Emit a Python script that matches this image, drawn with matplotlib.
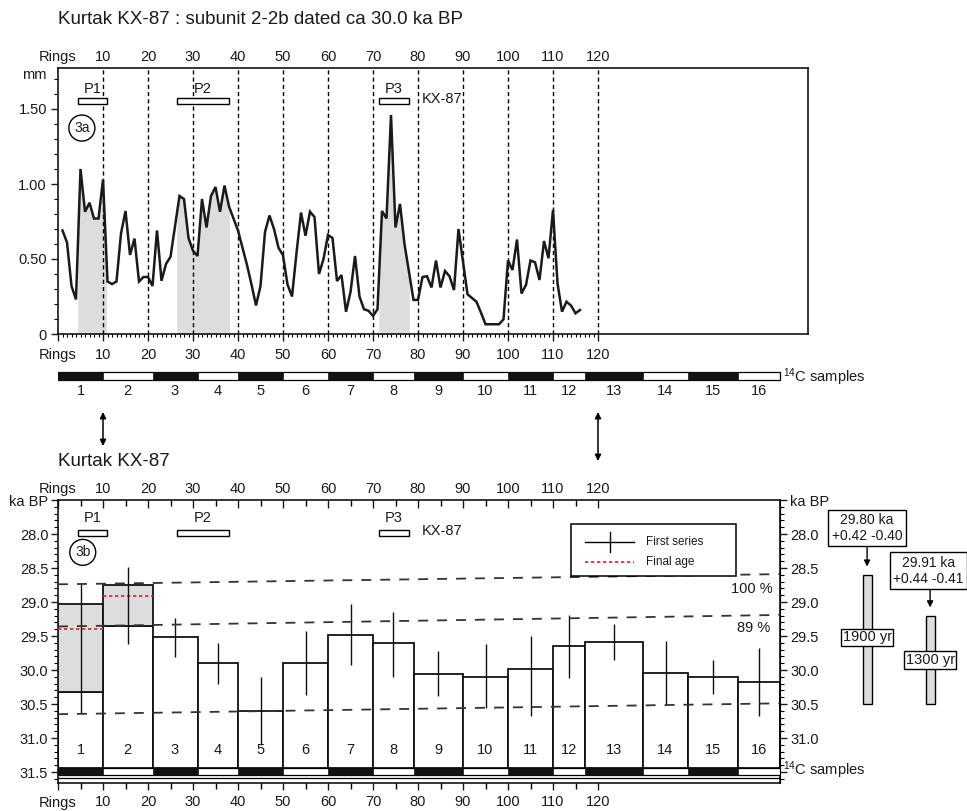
import numpy as np
import matplotlib
matplotlib.use('Agg')
import matplotlib.pyplot as plt
from matplotlib.patches import Rectangle
from matplotlib.lines import Line2D
from matplotlib.ticker import FixedLocator

plt.rcParams['font.family'] = ['Liberation Sans', 'DejaVu Sans']
plt.rcParams['mathtext.default'] = 'regular'

# ---------------- data ----------------
ring_no = [1, 2, 3, 4, 5, 6, 7, 8, 9, 10, 11, 12, 13, 14, 15, 16, 17, 18, 19, 20,
           21, 22, 23, 24, 25, 27, 28, 29, 30, 31, 32, 33, 34, 35, 36, 37, 38, 40,
           42, 43, 44, 45, 46, 47, 48, 49, 50, 51, 52, 53, 54, 55, 56, 57, 58, 59,
           60, 61, 62, 63, 64, 65, 66, 67, 68, 69, 70, 71, 72, 73, 74, 75, 76, 77,
           79, 80, 81, 82, 83, 84, 85, 86, 87, 88, 89, 91, 93, 94, 95, 97, 98, 99,
           100, 101, 102, 103, 104, 105, 106, 107, 108, 109, 110, 111, 112, 113,
           114, 115, 116]
ring_mm = [0.69, 0.61, 0.32, 0.23, 1.10, 0.815, 0.875, 0.77, 0.77, 1.03, 0.35, 0.333,
           0.35, 0.67, 0.82, 0.527, 0.636, 0.35, 0.38, 0.38, 0.32, 0.69, 0.355, 0.467,
           0.515, 0.92, 0.90, 0.64, 0.555, 0.52, 0.90, 0.71, 0.92, 0.98, 0.815, 0.99,
           0.85, 0.69, 0.46, 0.33, 0.19, 0.32, 0.68, 0.79, 0.70, 0.575, 0.525, 0.33,
           0.25, 0.54, 0.81, 0.655, 0.815, 0.78, 0.40, 0.50, 0.66, 0.64, 0.353, 0.393,
           0.148, 0.28, 0.52, 0.25, 0.165, 0.155, 0.12, 0.165, 0.82, 0.77, 1.46, 0.71,
           0.867, 0.60, 0.227, 0.227, 0.38, 0.385, 0.31, 0.49, 0.31, 0.42, 0.385,
           0.293, 0.70, 0.265, 0.215, 0.142, 0.065, 0.065, 0.065, 0.098, 0.49, 0.427,
           0.63, 0.27, 0.327, 0.49, 0.478, 0.36, 0.62, 0.505, 0.827, 0.338, 0.149,
           0.215, 0.19, 0.138, 0.16]

peak_names = ['P1', 'P2', 'P3']
peak_start = [4.4, 26.4, 71.3]
peak_end = [10.8, 38.1, 78.1]
decade_lines = [10, 20, 30, 40, 50, 60, 70, 80, 90, 100, 110, 120]
ring_tick_labels = ['Rings', '10', '20', '30', '40', '50', '60', '70', '80', '90',
                    '100', '110', '120']

sample_ids = ['1', '2', '3', '4', '5', '6', '7', '8', '9', '10', '11', '12', '13',
              '14', '15', '16']
sample_edges = [0, 10, 21, 31, 40, 50, 60, 70, 79, 90, 100, 110, 117, 130, 140,
                151, 160.5]
first_age = [30.33, 29.35, 29.52, 29.90, 30.60, 29.89, 29.48, 29.61, 30.06, 30.10,
             29.99, 29.65, 29.59, 30.05, 30.11, 30.17]
err_young = [28.74, 28.48, 29.24, 29.60, 30.10, 29.42, 29.03, 29.14, 29.72, 29.62,
             29.50, 29.19, 29.33, 29.57, 29.86, 29.67]
err_old = [30.63, 29.62, 29.81, 30.21, 31.10, 30.37, 29.93, 30.10, 30.38, 30.56,
           30.67, 30.12, 29.86, 30.52, 30.36, 30.68]
final_box_top = [29.03, 28.75]
final_box_bottom = [30.33, 29.35]
final_age = [29.40, 28.91]

conf_labels = ['100 %', '89 %', '']
conf_left = [28.74, 29.36, 30.65]
conf_right = [28.59, 29.19, 30.49]

summary_age = ['29.80 ka', '29.91 ka']
summary_err = ['+0.42 -0.40', '+0.44 -0.41']
summary_top = [28.6, 29.2]
summary_bottom = [30.5, 30.5]
summary_span = ['1900 yr', '1300 yr']

legend_labels = ['First series', 'Final age']

ka_ticks = [27.5, 28.0, 28.5, 29.0, 29.5, 30.0, 30.5, 31.0, 31.5]
ka_labels_left = ['ka BP', '28.0', '28.5', '29.0', '29.5', '30.0', '30.5', '31.0', '31.5']
ka_labels_right = ['ka BP', '28.0', '28.5', '29.0', '29.5', '30.0', '30.5', '31.0', '']

# ---------------- layout helpers ----------------
W, H = 967, 811
PX_PER_RING = 4.5
fig = plt.figure(figsize=(W / 100, H / 100), dpi=100)


def fbox(x0, y0, x1, y1):
    return [x0 / W, 1 - y1 / H, (x1 - x0) / W, (y1 - y0) / H]


def fx(x):
    return x / W


def fy(y):
    return 1 - y / H


GRAY = '#dcdddf'
TXT = '#1a1a1a'
RED = '#ee1c24'
FS = 10.5

# ---------------- top panel: ring widths ----------------
ax1 = fig.add_axes(fbox(58, 68, 808, 334))
ax1.set_xlim(0, 750 / PX_PER_RING)
ax1.set_ylim(0, 266 / 150)

xf = np.linspace(0, 120, 4801)
yf = np.interp(xf, ring_no, ring_mm)
for s, e in zip(peak_start, peak_end):
    m = (xf >= s) & (xf <= e)
    ax1.fill_between(xf[m], 0, yf[m], color=GRAY, lw=0, zorder=1)
for d in decade_lines:
    ax1.axvline(d, color='k', lw=1.0, ls=(0, (3, 2.2)), zorder=2)
ax1.plot(ring_no, ring_mm, color=TXT, lw=1.8, zorder=3, solid_joinstyle='miter')

for name, s, e in zip(peak_names, peak_start, peak_end):
    ax1.add_patch(Rectangle((s, 1.533), e - s, 0.04, fc='white', ec='k', lw=1, zorder=4))
    ax1.text((s + e) / 2, 1.635, name, ha='center', va='center', fontsize=FS, color=TXT)
ax1.text(80.8, 1.565, 'KX-87', ha='left', va='center', fontsize=FS, color=TXT)
ax1.text(5.3, 1.373, '3a', ha='center', va='center', fontsize=10, color=TXT,
         bbox=dict(boxstyle='circle,pad=0.38', fc='white', ec='k', lw=1))

ax1.set_xticks([0] + decade_lines)
ax1.set_xticklabels(ring_tick_labels)
ax1.xaxis.set_minor_locator(FixedLocator(np.arange(1, 121, 1)))
ax1.tick_params(axis='x', which='major', direction='out', length=5, width=1,
                labelsize=FS, pad=5, colors=TXT)
ax1.tick_params(axis='x', which='minor', direction='out', length=2.5, width=0.8)
sec1 = ax1.secondary_xaxis('top')
sec1.set_xticks([0] + decade_lines)
sec1.set_xticklabels(ring_tick_labels)
sec1.tick_params(length=0, labelsize=FS, pad=3, colors=TXT)
sec1.spines['top'].set_visible(False)

ax1.set_yticks([0, 0.5, 1.0, 1.5])
ax1.set_yticklabels(['0', '0.50', '1.00', '1.50'])
ax1.yaxis.set_minor_locator(FixedLocator(np.round(np.arange(0.1, 1.75, 0.1), 2)))
ax1.tick_params(axis='y', which='major', direction='out', length=5, width=1,
                labelsize=FS, pad=3, colors=TXT)
ax1.tick_params(axis='y', which='minor', direction='out', length=3, width=0.8)
ax1.text(-2.5, 1.727, 'mm', ha='right', va='center', fontsize=FS, color=TXT)
for sp in ax1.spines.values():
    sp.set_linewidth(1.1)

# ---------------- sample bar + linking arrows ----------------
axb = fig.add_axes(fbox(58, 355, 808, 470))
axb.set_xlim(0, 750 / PX_PER_RING)
axb.set_ylim(470, 355)
axb.axis('off')
axb.add_patch(Rectangle((sample_edges[0], 372), sample_edges[-1] - sample_edges[0], 8,
                        fc='white', ec='k', lw=0.9))
for i, sid in enumerate(sample_ids):
    a, b = sample_edges[i], sample_edges[i + 1]
    if i % 2 == 0:
        axb.add_patch(Rectangle((a, 372), b - a, 8, fc='#111111', ec='#111111', lw=0.5))
    axb.text((a + b) / 2, 391, sid, ha='center', va='center', fontsize=FS, color=TXT)
axb.text(161.2, 377, '$^{14}$C samples', ha='left', va='center', fontsize=FS,
         color=TXT, clip_on=False)
for xr, y1 in [(10, 446), (120, 461)]:
    axb.annotate('', xy=(xr, y1), xytext=(xr, 412),
                 arrowprops=dict(arrowstyle='<|-|>', color='k', lw=1.1,
                                 shrinkA=0, shrinkB=0, mutation_scale=9))

# ---------------- titles ----------------
fig.text(fx(58), fy(20), 'Kurtak KX-87 : subunit 2-2b dated ca 30.0 ka BP',
         ha='left', va='center', fontsize=13.5, color=TXT)
fig.text(fx(58), fy(461), 'Kurtak KX-87', ha='left', va='center', fontsize=13.5,
         color=TXT)

# ---------------- bottom panel: 14C ages ----------------
ax2 = fig.add_axes(fbox(58, 500, 58 + 160.5 * PX_PER_RING, 783))
ax2.set_xlim(0, 160.5)
ax2.set_ylim(27.5 + 283 / 68, 27.5)

BAR_TOP, BAR_BOT = 31.44, 31.54
for i, sid in enumerate(sample_ids):
    a, b = sample_edges[i], sample_edges[i + 1]
    ax2.add_patch(Rectangle((a, first_age[i]), b - a, BAR_TOP - first_age[i],
                            fc='white', ec='#111111', lw=1.3, zorder=2))
    ax2.text((a + b) / 2, 31.17, sid, ha='center', va='center', fontsize=FS, color=TXT,
             zorder=5)
for i in range(len(final_box_top)):
    a, b = sample_edges[i], sample_edges[i + 1]
    ax2.add_patch(Rectangle((a, final_box_top[i]), b - a,
                            final_box_bottom[i] - final_box_top[i],
                            fc=GRAY, ec='#111111', lw=1.3, zorder=3))
    ax2.plot([a, b], [final_age[i]] * 2, color=RED, lw=1.2, ls=(0, (2, 1.6)),
             zorder=4)
centers = [(sample_edges[i] + sample_edges[i + 1]) / 2 for i in range(len(sample_ids))]
ax2.vlines(centers, err_young, err_old, color='#111111', lw=1.0, zorder=4)

for lab, yl, yr in zip(conf_labels, conf_left, conf_right):
    ax2.plot([0, 160.5], [yl, yr], color='#333333', lw=1.3, ls=(0, (5.5, 5)), zorder=6)
ax2.text(158.9, 28.81, conf_labels[0], ha='right', va='center', fontsize=FS, color=TXT)
ax2.text(158.3, 29.38, conf_labels[1], ha='right', va='center', fontsize=FS, color=TXT)

ax2.add_patch(Rectangle((sample_edges[0], BAR_TOP), sample_edges[-1] - sample_edges[0],
                        BAR_BOT - BAR_TOP, fc='white', ec='k', lw=0.9, zorder=3))
for i in range(0, len(sample_ids), 2):
    a, b = sample_edges[i], sample_edges[i + 1]
    ax2.add_patch(Rectangle((a, BAR_TOP), b - a, BAR_BOT - BAR_TOP,
                            fc='#111111', ec='#111111', lw=0.5, zorder=3))
ax2.axhline(31.585, color='k', lw=0.9, zorder=3)
ax2.text(161.1, 31.47, '$^{14}$C samples', ha='left', va='center', fontsize=FS,
         color=TXT, clip_on=False)

for name, s, e in zip(peak_names, peak_start, peak_end):
    ax2.add_patch(Rectangle((s, 27.945), e - s, 0.085, fc='white', ec='k', lw=1, zorder=4))
    ax2.text((s + e) / 2, 27.77, name, ha='center', va='center', fontsize=FS, color=TXT)
ax2.text(80.8, 27.95, 'KX-87', ha='left', va='center', fontsize=FS, color=TXT)
ax2.text(5.5, 28.27, '3b', ha='center', va='center', fontsize=10, color=TXT,
         bbox=dict(boxstyle='circle,pad=0.38', fc='white', ec='k', lw=1))

# ticks bottom panel
ax2.set_xticks([0] + decade_lines)
ax2.set_xticklabels(ring_tick_labels)
ax2.xaxis.set_minor_locator(FixedLocator(np.arange(5, 121, 10)))
ax2.tick_params(axis='x', which='major', direction='out', length=5, width=1,
                labelsize=FS, pad=4, colors=TXT)
ax2.tick_params(axis='x', which='minor', direction='out', length=4, width=1)
sec2 = ax2.secondary_xaxis('top')
sec2.set_xticks([0] + decade_lines)
sec2.set_xticklabels(ring_tick_labels)
sec2.xaxis.set_minor_locator(FixedLocator(np.arange(5, 121, 10)))
sec2.tick_params(axis='x', which='major', direction='in', length=6, width=1,
                 labelsize=FS, pad=3, colors=TXT)
sec2.tick_params(axis='x', which='minor', direction='in', length=4, width=1)
sec2.spines['top'].set_visible(False)

ax2.set_yticks(ka_ticks)
ax2.set_yticklabels(ka_labels_left)
ax2.yaxis.set_minor_locator(FixedLocator(np.round(np.arange(27.6, 31.65, 0.1), 2)))
ax2.tick_params(axis='y', which='major', direction='out', length=5, width=1,
                labelsize=FS, pad=2, colors=TXT)
ax2.tick_params(axis='y', which='minor', direction='out', length=3, width=0.8)
secy = ax2.secondary_yaxis('right')
secy.set_yticks(ka_ticks)
secy.set_yticklabels(ka_labels_right)
secy.yaxis.set_minor_locator(FixedLocator(np.round(np.arange(27.6, 31.65, 0.1), 2)))
secy.tick_params(axis='y', which='major', direction='out', length=5, width=1,
                 labelsize=FS, pad=2, colors=TXT)
secy.tick_params(axis='y', which='minor', direction='out', length=3, width=0.8)
for sp in ax2.spines.values():
    sp.set_linewidth(1.1)

# legend box (drawn by hand to match the reference frame)
fig.add_artist(Rectangle((fx(571), fy(576)), (736 - 571) / W, (576 - 524) / H,
                         transform=fig.transFigure, fc='white', ec='k', lw=1.1,
                         zorder=10))
fig.add_artist(Line2D([fx(585), fx(634)], [fy(542), fy(542)], color='k', lw=1,
                      transform=fig.transFigure, zorder=11))
fig.add_artist(Line2D([fx(609.5), fx(609.5)], [fy(532), fy(552)], color='k', lw=1,
                      transform=fig.transFigure, zorder=11))
fig.add_artist(Line2D([fx(585), fx(634)], [fy(562), fy(562)], color=RED, lw=1.2,
                      ls=(0, (2, 1.6)), transform=fig.transFigure, zorder=11))
fig.text(fx(646), fy(542), legend_labels[0], ha='left', va='center', fontsize=8.5,
         color=TXT, zorder=12)
fig.text(fx(646), fy(562), legend_labels[1], ha='left', va='center', fontsize=8.5,
         color=TXT, zorder=12)

# summary bars on the right
bar_x = [179.8, 193.8]
box_x = [179.8, 193.4]
box_y = [27.91, 28.54]
arrow_from = [28.10, 28.80]
arrow_to = [28.48, 29.08]
span_y = [29.52, 29.85]
for i in range(2):
    ax2.add_patch(Rectangle((bar_x[i] - 1.0, summary_top[i]), 2.0,
                            summary_bottom[i] - summary_top[i], fc=GRAY, ec='k', lw=1,
                            clip_on=False, zorder=3))
    ax2.text(box_x[i], box_y[i], summary_age[i] + '\n' + summary_err[i], ha='center',
             va='center', fontsize=10, color=TXT, linespacing=1.15, clip_on=False,
             bbox=dict(boxstyle='square,pad=0.25', fc='white', ec='k', lw=1), zorder=5)
    ax2.annotate('', xy=(bar_x[i], arrow_to[i]), xytext=(bar_x[i], arrow_from[i]),
                 arrowprops=dict(arrowstyle='-|>', color='k', lw=1, shrinkA=0,
                                 shrinkB=0, mutation_scale=9), annotation_clip=False)
    ax2.text(bar_x[i], span_y[i], summary_span[i], ha='center', va='center', fontsize=FS,
             color=TXT, clip_on=False,
             bbox=dict(boxstyle='square,pad=0.12', fc='white', ec='k', lw=1), zorder=5)

fig.savefig('out.png', dpi=100)
